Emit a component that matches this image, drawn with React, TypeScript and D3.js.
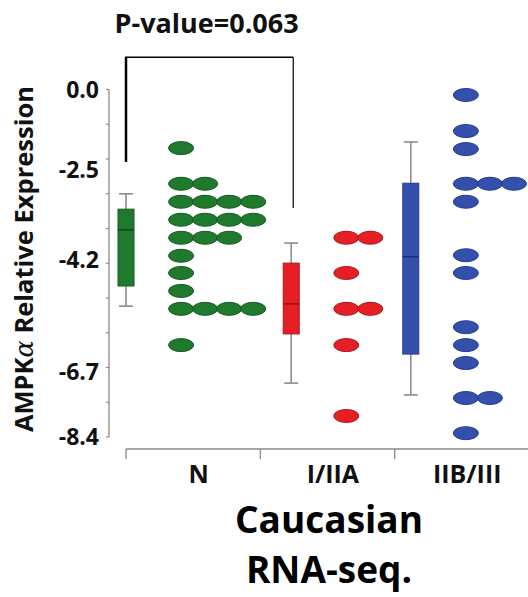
import React from "react";
import * as d3 from "d3";

const categories = ["N", "I/IIA", "IIB/III"];

const nValues = [
  -1.82, -2.76, -2.76, -3.1, -3.1, -3.1, -3.1, -3.44, -3.44, -3.44, -3.44,
  -3.78, -3.78, -3.78, -4.12, -4.49, -4.89, -5.29, -5.29, -5.29, -5.29, -6.1,
];
const i2aValues = [-3.78, -3.78, -4.49, -5.29, -5.29, -6.1, -7.85];
const iib3Values = [
  -0.17, -1.29, -1.85, -2.76, -2.76, -2.76, -3.1, -4.11, -4.49, -5.7, -6.1,
  -6.5, -7.38, -7.38, -8.3,
];

const boxHigh = [-2.95, -3.88, -1.63];
const boxQ3 = [-3.24, -4.27, -2.75];
const boxMedian = [-3.63, -5.18, -4.14];
const boxQ1 = [-4.78, -5.85, -6.3];
const boxLow = [-5.23, -6.99, -7.3];

const yTickValues = [0, -2.5, -4.2, -6.7, -8.4];
const pValueLabel = "P-value=0.063";
const bracketTop = 1.0;
const bracketLeftEnd = -2.25;
const bracketRightEnd = -3.22;

// layout (category units along x)
const boxPos = [0, 1.23, 2.12];
const dotStart = [0.41, 1.64, 2.53];
const dotStep = 0.179;

const fills = ["#1f7a2e", "#e61e26", "#3450aa"];
const strokes = ["#145a20", "#a8161c", "#24399a"];
const medianStroke = ["#0b3a14", "#7a0e12", "#162670"];

const FONT = "'Open Sans', sans-serif";

export default function App() {
  const W = 528;
  const H = 597;
  const y = d3.scaleLinear().domain(yTickValues).range([89.5, 170, 260, 372, 437]);
  const x = d3.scaleLinear().domain([0, 3]).range([126, 529]);
  const minor = d3.scaleLinear().domain([0, 10]).range([y(0), y(-8.4)]);
  const fmt = (v: number) => d3.format(".1f")(v).replace("−", "-");
  const groups = [nValues, i2aValues, iib3Values];
  const boxW = 16;
  const capW = 14;
  const axisX = 109;
  const axisY = 449;

  return (
    <svg
      width={W}
      height={H}
      style={{ position: "absolute", left: 0, top: 0, background: "#fff" }}
    >
      {/* y axis */}
      <line x1={axisX} x2={axisX} y1={y(0)} y2={y(-8.4)} stroke="#8a8a8a" strokeWidth={1.3} />
      {d3.range(11).map((i) => (
        <line key={"mt" + i} x1={axisX - 3} x2={axisX} y1={minor(i)} y2={minor(i)} stroke="#8a8a8a" strokeWidth={1.2} />
      ))}
      {yTickValues.map((v) => (
        <text
          key={"yl" + v}
          x={99}
          y={y(v)}
          dy="0.36em"
          textAnchor="end"
          fontFamily={FONT}
          fontWeight={700}
          fontSize={23}
          fill="#111"
        >
          {fmt(v)}
        </text>
      ))}
      <text
        transform={`translate(33,${259}) rotate(-90)`}
        textAnchor="middle"
        fontFamily={FONT}
        fontWeight={700}
        fontSize={25.5}
        fill="#111"
      >
        AMPK
        <tspan fontWeight={400} fontFamily="'DejaVu Serif', serif" fontStyle="italic">α</tspan>
        {" Relative Expression"}
      </text>

      {/* x axis */}
      <line x1={x(0)} x2={x(3)} y1={axisY} y2={axisY} stroke="#8a8a8a" strokeWidth={1.3} />
      {d3.range(4).map((i) => (
        <line key={"xt" + i} x1={x(i)} x2={x(i)} y1={axisY} y2={axisY + 10} stroke="#8a8a8a" strokeWidth={1.3} />
      ))}
      {categories.map((c, i) => (
        <text
          key={"xl" + c}
          x={x(i + 0.54)}
          y={483}
          textAnchor="middle"
          fontFamily={FONT}
          fontWeight={700}
          fontSize={25}
          fill="#111"
        >
          {c}
        </text>
      ))}
      <text x={329} y={533} textAnchor="middle" fontFamily={FONT} fontWeight={700} fontSize={37} fill="#000">
        Caucasian
      </text>
      <text x={329} y={583} textAnchor="middle" fontFamily={FONT} fontWeight={700} fontSize={37} fill="#000">
        RNA-seq.
      </text>

      {/* significance bracket */}
      <line x1={x(boxPos[0])} x2={x(boxPos[0])} y1={y(bracketTop)} y2={y(bracketLeftEnd)} stroke="#000" strokeWidth={2.5} />
      <line x1={x(boxPos[0]) - 1} x2={x(boxPos[1]) + 2} y1={y(bracketTop)} y2={y(bracketTop)} stroke="#000" strokeWidth={1.5} />
      <line x1={x(boxPos[1]) + 2} x2={x(boxPos[1]) + 2} y1={y(bracketTop)} y2={y(bracketRightEnd)} stroke="#000" strokeWidth={1.2} />
      <text
        x={(x(boxPos[0]) + x(boxPos[1])) / 2 - 2}
        y={33}
        textAnchor="middle"
        fontFamily={FONT}
        fontWeight={700}
        fontSize={27}
        fill="#111"
      >
        {pValueLabel}
      </text>

      {/* box plots */}
      {categories.map((c, i) => {
        const cx = x(boxPos[i]);
        return (
          <g key={"box" + c}>
            <line x1={cx} x2={cx} y1={y(boxHigh[i])} y2={y(boxLow[i])} stroke="#8c8c8c" strokeWidth={1.6} />
            <line x1={cx - capW / 2} x2={cx + capW / 2} y1={y(boxHigh[i])} y2={y(boxHigh[i])} stroke="#8c8c8c" strokeWidth={1.6} />
            <line x1={cx - capW / 2} x2={cx + capW / 2} y1={y(boxLow[i])} y2={y(boxLow[i])} stroke="#8c8c8c" strokeWidth={1.6} />
            <rect
              x={cx - boxW / 2}
              y={y(boxQ3[i])}
              width={boxW}
              height={y(boxQ1[i]) - y(boxQ3[i])}
              fill={fills[i]}
              stroke={strokes[i]}
              strokeWidth={1}
            />
            <line x1={cx - boxW / 2} x2={cx + boxW / 2} y1={y(boxMedian[i])} y2={y(boxMedian[i])} stroke={medianStroke[i]} strokeWidth={1.2} />
          </g>
        );
      })}

      {/* dots */}
      {groups.map((vals, gi) => {
        const rows = d3.groups(vals, (v) => v);
        return (
          <g key={"dots" + gi}>
            {rows.flatMap(([v, arr]) =>
              arr.map((_, k) => (
                <ellipse
                  key={`${gi}-${v}-${k}`}
                  cx={x(dotStart[gi] + k * dotStep)}
                  cy={y(v)}
                  rx={12.5}
                  ry={6.5}
                  fill={fills[gi]}
                  stroke={strokes[gi]}
                  strokeWidth={1}
                />
              ))
            )}
          </g>
        );
      })}
    </svg>
  );
}
